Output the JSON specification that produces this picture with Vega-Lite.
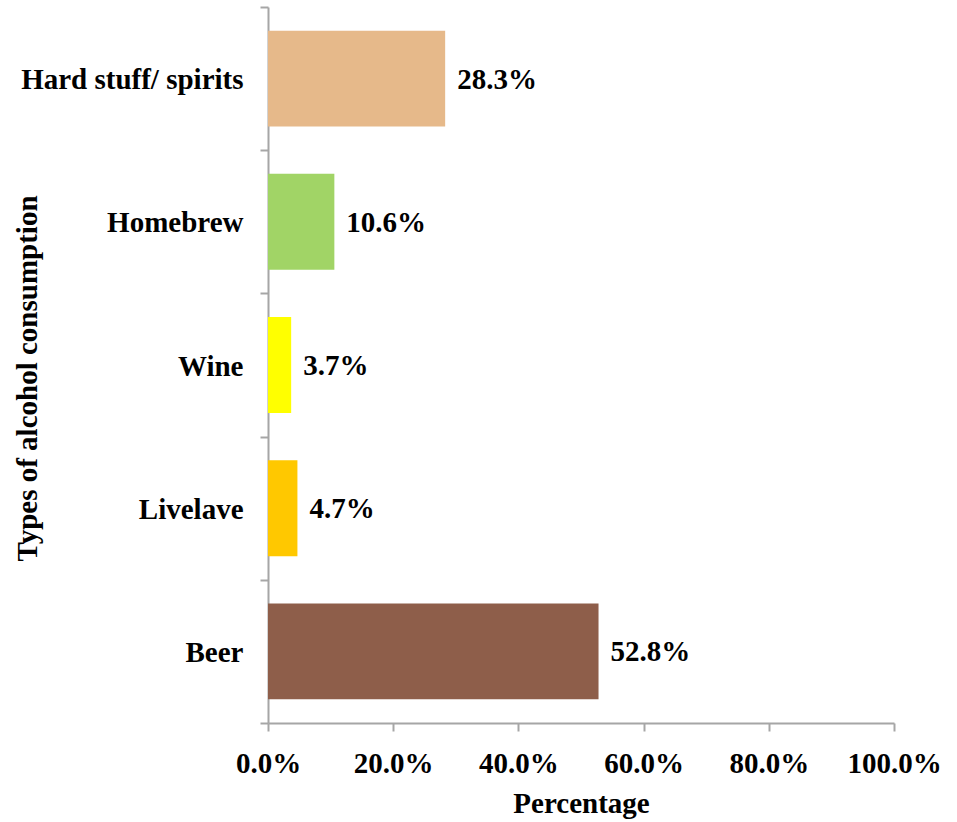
{
  "$schema": "https://vega.github.io/schema/vega-lite/v6.json",
  "autosize": "none",
  "width": 626,
  "height": 716,
  "padding": {"left": 268, "top": 7, "right": 63, "bottom": 99},
  "background": "white",
  "config": {
    "view": {"stroke": null},
    "font": "Liberation Serif",
    "axis": {"grid": false, "domainColor": "#A6A6A6", "tickColor": "#A6A6A6", "domainWidth": 2, "tickWidth": 2}
  },
  "data": {
    "values": [
      {"type": "Hard stuff/ spirits", "value": 0.283, "color": "#E6B98A"},
      {"type": "Homebrew", "value": 0.106, "color": "#A1D466"},
      {"type": "Wine", "value": 0.037, "color": "#FFFF00"},
      {"type": "Livelave", "value": 0.047, "color": "#FFC800"},
      {"type": "Beer", "value": 0.528, "color": "#8E5E4A"}
    ]
  },
  "encoding": {
    "y": {
      "field": "type",
      "type": "nominal",
      "sort": null,
      "scale": {"paddingInner": 0, "paddingOuter": 0},
      "axis": {
        "title": "Types of alcohol consumption",
        "titleFontSize": 29,
        "titleFontWeight": "bold",
        "titleColor": "black",
        "titleX": -241,
        "titleY": 371,
        "titleAngle": -90,
        "titleAlign": "center",
        "titleBaseline": "middle",
        "labelFontSize": 29,
        "labelFontWeight": "bold",
        "labelColor": "black",
        "labelPadding": 17,
        "labelLimit": 400,
        "labelBaseline": "middle",
        "labelOffset": 1,
        "tickBand": "extent",
        "tickSize": 8
      }
    },
    "x": {
      "field": "value",
      "type": "quantitative",
      "scale": {"domain": [0, 1], "nice": false},
      "axis": {
        "title": "Percentage",
        "format": ".1%",
        "values": [0, 0.2, 0.4, 0.6, 0.8, 1.0],
        "labelFlush": false,
        "labelOverlap": false,
        "titleFontSize": 29,
        "titleFontWeight": "bold",
        "titleColor": "black",
        "titlePadding": 11,
        "labelFontSize": 29,
        "labelFontWeight": "bold",
        "labelColor": "black",
        "labelPadding": 18,
        "tickSize": 8
      }
    }
  },
  "layer": [
    {
      "mark": {"type": "bar", "height": {"band": 0.67}},
      "encoding": {
        "color": {"field": "color", "type": "nominal", "scale": null}
      }
    },
    {
      "mark": {"type": "text", "align": "left", "dx": 12, "dy": 1, "fontSize": 29, "fontWeight": "bold", "color": "black", "baseline": "middle"},
      "encoding": {
        "text": {"field": "value", "type": "quantitative", "format": ".1%"}
      }
    }
  ]
}
